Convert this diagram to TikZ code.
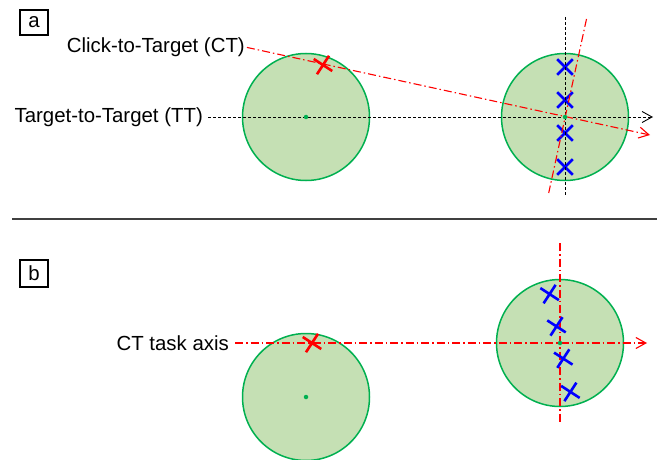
\documentclass[tikz,border=0pt]{standalone}
\usepackage{fontspec}
\setmainfont{Liberation Sans}
\usetikzlibrary{arrows.meta}
\definecolor{rimgreen}{RGB}{0,176,80}
\definecolor{fillgreen}{RGB}{197,224,180}
\definecolor{crossblue}{RGB}{0,0,255}
\definecolor{axisred}{RGB}{255,0,0}
\definecolor{rulegray}{RGB}{64,64,64}

\tikzset{
  xmark/.pic={\draw[line width=2.6pt, pic actions] (-7.8,-7.8) -- (7.8,7.8) (-7.8,7.8) -- (7.8,-7.8);}
}

\begin{document}
\begin{tikzpicture}[x=1pt,y=-1pt,
  target/.style={circle, draw=rimgreen, fill=fillgreen, line width=1.5pt, minimum size=127pt, inner sep=0pt},
  centerdot/.style={circle, fill=rimgreen, inner sep=0pt, minimum size=4.5pt},
  txt/.style={font=\fontsize{20.4}{24}\selectfont, inner sep=0pt},
  panelbox/.style={draw, line width=1.1pt, font=\fontsize{20.4}{24}\selectfont, minimum width=28pt, inner sep=0pt},
  ttaxis/.style={black, line width=0.9pt, dash pattern=on 3pt off 2pt},
  ctaxis/.style={axisred, line width=1.1pt, dash pattern=on 8pt off 3pt on 1.5pt off 3pt},
  openhead/.style={-{Straight Barb[length=10pt,width=11pt]}},
  hit/.style={axisred},
  miss/.style={crossblue}
]
\useasboundingbox (0,0) rectangle (670,460);

% ---------- panel a ----------
\node[panelbox, minimum height=25pt] (pa) at (34,22.5) {a};
\node[target] (la) at (306,117) {};
\node[target] (ra) at (565,117) {};

\node[txt, anchor=east] (ct) at (245,47) {Click-to-Target (CT)};
\node[txt, anchor=east] (tt) at (203,117) {Target-to-Target (TT)};

\coordinate (ctend) at (650,135);
\coordinate (ttend) at (653,117);
\coordinate (vtop) at (565,17);
\coordinate (vbot) at (565,195);
\coordinate (ptop) at (586.5,19);
\coordinate (pbot) at (548.7,193);

% click positions
\pic[hit, rotate=12] at (323,65) {xmark};
\pic[miss] at (565,67) {xmark};
\pic[miss] at (565,100) {xmark};
\pic[miss] at (565,133) {xmark};
\pic[miss] at (565,167) {xmark};

\draw[ttaxis, openhead, shorten <=5pt] (tt.east) -- (ttend);
\draw[ttaxis] (vtop) -- (vbot);
\draw[ctaxis, openhead, shorten <=2pt] (ct.east) -- (ctend);
\draw[ctaxis] (ptop) -- (pbot);

\node[centerdot] at (la.center) {};
\node[centerdot] at (ra.center) {};

% ---------- separator ----------
\coordinate (sepl) at (12,219);
\coordinate (sepr) at (657,219);
\draw[rulegray, line width=1.3pt] (sepl) -- (sepr);

% ---------- panel b ----------
\node[panelbox, minimum height=27pt] (pb) at (34,273.5) {b};
\node[target] (lb) at (306,397) {};
\node[target] (rb) at (560,343) {};

\node[txt, anchor=east] (cta) at (229,343) {CT task axis};

\coordinate (axend) at (647,343);
\coordinate (btop) at (560,243);
\coordinate (bbot) at (560,422);

\draw[ctaxis, openhead, shorten <=6pt] (cta.east) -- (axend);
\draw[ctaxis] (btop) -- (bbot);

\pic[hit, rotate=12] at (312,343) {xmark};
\pic[miss, rotate=12] at (549.6,294.1) {xmark};
\pic[miss, rotate=12] at (556.5,326.4) {xmark};
\pic[miss, rotate=12] at (563.3,358.6) {xmark};
\pic[miss, rotate=12] at (570.4,391.9) {xmark};

\node[centerdot] at (lb.center) {};
\node[centerdot] at (rb.center) {};
\end{tikzpicture}
\end{document}
